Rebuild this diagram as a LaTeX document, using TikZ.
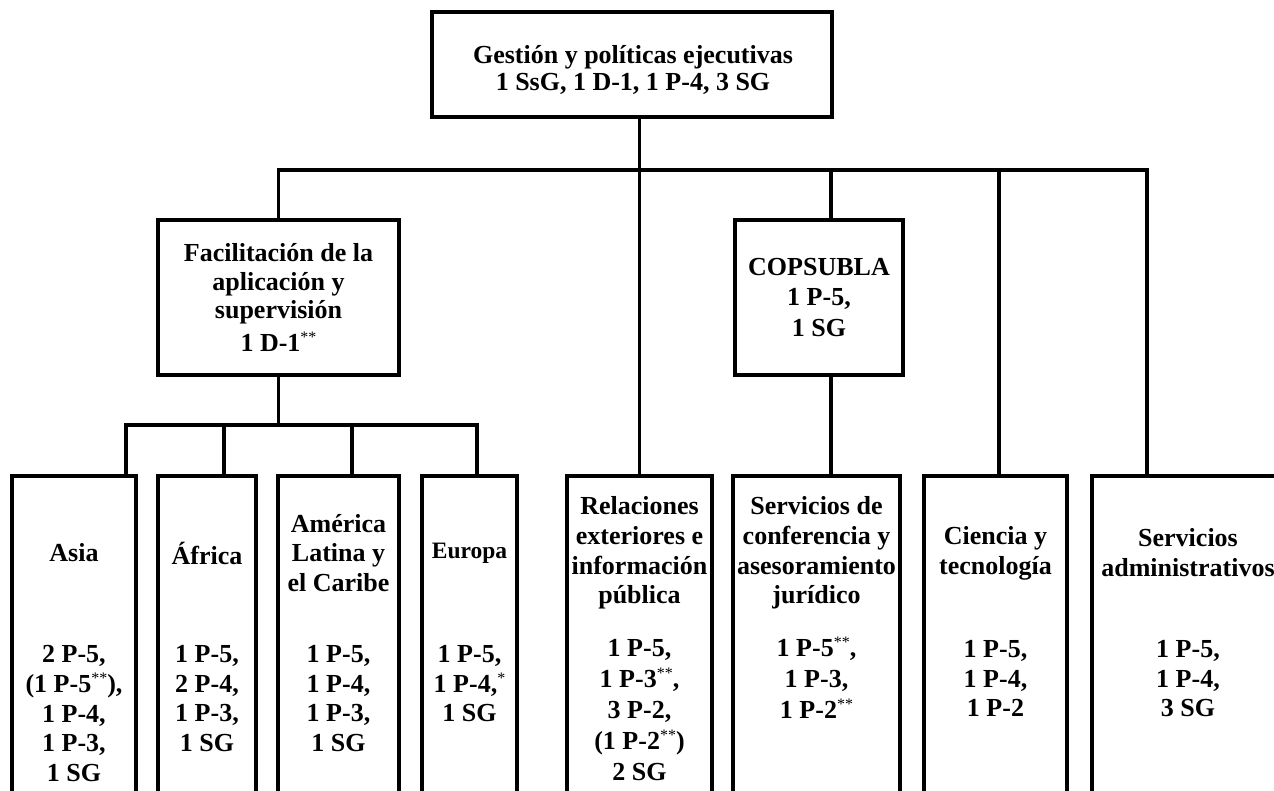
\documentclass[tikz,border=0pt]{standalone}
\usepackage{fontspec}
\setmainfont{Liberation Serif}
\newcommand{\stars}[1]{\smash{\raisebox{9pt}{\fontsize{16}{16}\selectfont\mdseries #1}}}
\begin{document}
\begin{tikzpicture}[x=1pt,y=-1pt,
  lw/.style={line width=3.6pt},
  box/.style={draw, lw, inner sep=0pt, align=center, font=\bfseries\fontsize{26}{29.8}\selectfont},
  txt/.style={inner sep=0pt, align=center, font=\bfseries\fontsize{26}{29.8}\selectfont},
  conn/.style={lw}]
\useasboundingbox (0,0) rectangle (1274,791);
\clip (0,0) rectangle (1274,791);
% upper boxes
\node[box, minimum width=400pt, minimum height=105pt] (top) at (632,64.5) {};
\node[txt] (topT) at (633,70) {Gestión y políticas ejecutivas\\[-2pt]1 SsG, 1 D-1, 1 P-4, 3 SG};
\node[box, minimum width=241pt, minimum height=155pt] (fac) at (278.5,297.5)
  {Facilitación de la\\[-1pt]aplicación y\\[-1pt]supervisión\\[3pt]1 D-1\stars{**}};
\node[box, minimum width=168pt, minimum height=155pt] (cop) at (819,297.5)
  {COPSUBLA\\1 P-5,\\[1pt]1 SG};
% lower boxes (open at the bottom edge)
\node[box, minimum width=124pt, minimum height=324pt] (asia) at (74,638) {};
\node[box, minimum width=98pt, minimum height=324pt] (afr) at (207,638) {};
\node[box, minimum width=121pt, minimum height=324pt] (ame) at (338.5,638) {};
\node[box, minimum width=95pt, minimum height=324pt] (eur) at (469.5,638) {};
\node[box, minimum width=145pt, minimum height=324pt] (rel) at (639.5,638) {};
\node[box, minimum width=167pt, minimum height=324pt] (conf) at (816.5,638) {};
\node[box, minimum width=143pt, minimum height=324pt] (cie) at (995.5,638) {};
\node[box, minimum width=192pt, minimum height=324pt] (adm) at (1188,638) {};
% headers
\node[txt] (asiaH) at (asia.center |- 0,553) {Asia};
\node[txt] (afrH) at (afr.center |- 0,553) {África};
\node[txt] (ameH) at (ame.center |- 0,553) {América\\Latina y\\el Caribe};
\node[txt, font=\bfseries\fontsize{23.5}{27}\selectfont] (eurH) at (eur.center |- 0,553) {Europa};
\node[txt] (relH) at (rel.center |- 0,553) {Relaciones\\exteriores e\\información\\pública};
\node[txt] (confH) at (conf.center |- 0,553) {Servicios de\\conferencia y\\asesoramiento\\jurídico};
\node[txt] (cieH) at (cie.center |- 0,553) {Ciencia y\\tecnología};
\node[txt] (admH) at (adm.center |- 0,553) {Servicios\\administrativos};
% numbers
\node[txt, anchor=north] (asiaN) at (asia.center |- 0,645) {2 P-5,\\(1 P-5\stars{**}),\\1 P-4,\\1 P-3,\\1 SG};
\node[txt, anchor=north] (afrN) at (afr.center |- 0,645) {1 P-5,\\2 P-4,\\1 P-3,\\1 SG};
\node[txt, anchor=north] (ameN) at (ame.center |- 0,645) {1 P-5,\\1 P-4,\\1 P-3,\\1 SG};
\node[txt, anchor=north] (eurN) at (eur.center |- 0,645) {1 P-5,\\1 P-4,\stars{*}\\1 SG};
\node[txt, anchor=north] (relN) at (rel.center |- 0,639) {1 P-5,\\[1pt]1 P-3\stars{**},\\[1.5pt]3 P-2,\\[1.5pt](1 P-2\stars{**})\\[1pt]2 SG};
\node[txt, anchor=north] (confN) at (conf.center |- 0,639) {1 P-5\stars{**},\\[1pt]1 P-3,\\[1.5pt]1 P-2\stars{**}};
\node[txt, anchor=north] (cieN) at (cie.center |- 0,640) {1 P-5,\\1 P-4,\\1 P-2};
\node[txt, anchor=north] (admN) at (adm.center |- 0,640) {1 P-5,\\1 P-4,\\3 SG};
% junction coordinates
\coordinate (bus) at (1147,170);
\coordinate (sub) at (477,425);
% connectors
\draw[conn] (top.south -| rel.north) -- (rel.north);
\draw[conn] (fac.north) |- (bus) -- (bus |- adm.north);
\draw[conn] ([xshift=12pt]cop.north) -- ([xshift=12pt]cop.north |- bus);
\draw[conn] ([xshift=12pt]cop.south) -- ([xshift=12pt]cop.south |- conf.north);
\draw[conn] ([xshift=3.5pt]cie.north) -- ([xshift=3.5pt]cie.north |- bus);
\draw[conn] (fac.south) -- (fac.south |- sub);
\draw[conn] ([xshift=52pt]asia.north) |- (sub) -- (sub |- eur.north);
\draw[conn] ([xshift=17pt]afr.north) -- ([xshift=17pt]afr.north |- sub);
\draw[conn] ([xshift=13.5pt]ame.north) -- ([xshift=13.5pt]ame.north |- sub);
\end{tikzpicture}
\end{document}
